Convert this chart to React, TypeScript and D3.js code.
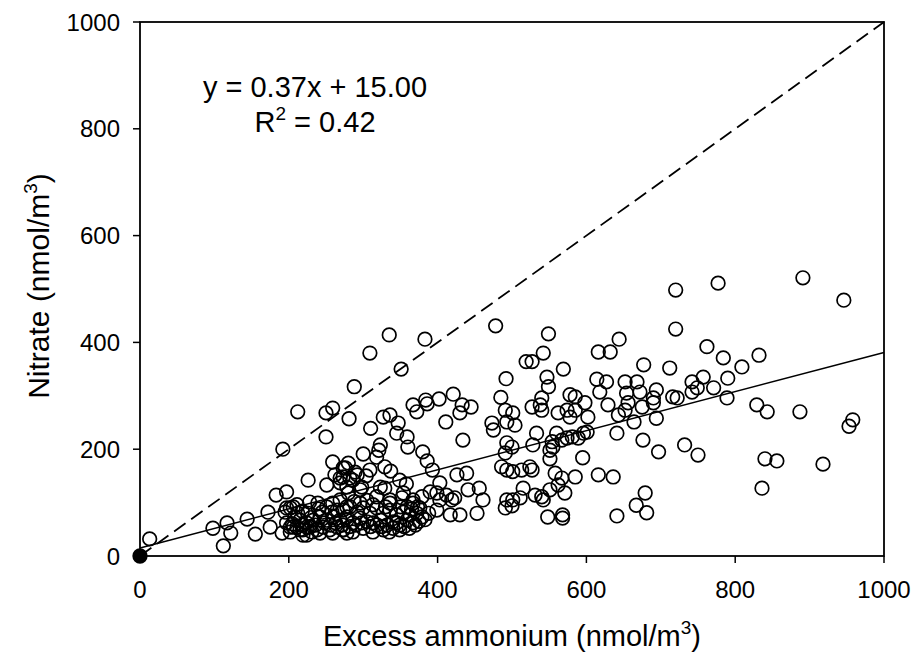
import React from "react";
import * as d3 from "d3";

// Excess ammonium (x) vs nitrate (y), nmol/m3
const observations: [number, number][] = [
  // low-left
  [13,32],[98,52],[117,62],[122,43],[112,19],[144,69],[155,41],[172,82],[175,54],[183,114],
  [197,120],[191,43],[197,90],[206,92],[212,80],[228,101],[239,99],[245,82],[197,62],[206,54],
  [215,49],[224,54],[219,39],[231,45],[202,45],[195,82],[192,200],[226,142],[251,133],[259,176],
  [250,223],[212,270],[250,268],[259,277],[288,317],[281,257],[309,380],[335,414],[351,350],[383,406],
  [478,431],
  // dense cluster 1
  [202,90],[211,96],[208,73],[215,67],[224,62],[233,67],[242,73],[251,67],[260,73],[269,67],
  [278,73],[202,54],[211,54],[219,49],[228,54],[238,49],[246,54],[255,49],[265,54],[273,49],
  [224,39],[242,43],[259,43],[278,43],[251,92],[259,99],[269,105],[278,92],[265,86],[278,129],
  [269,146],[262,152],[273,165],[280,174],
  // dense cluster 2
  [273,86],[282,92],[292,82],[300,90],[309,80],[318,90],[327,80],[336,86],[345,77],[354,82],
  [363,77],[372,80],[379,73],[278,67],[286,62],[296,71],[305,64],[313,62],[323,67],[332,58],
  [340,64],[349,58],[359,67],[367,62],[273,49],[286,45],[300,52],[313,45],[327,49],[340,52],
  [349,49],[296,99],[313,96],[336,99],[359,92],[376,90],[367,99],[318,111],[336,105],[280,118],
  [296,124],[269,137],[282,146],[292,152],[276,165],[298,129],[323,129],[329,127],[349,142],
  [205,60],[218,58],[230,72],[236,58],[248,62],[256,58],[263,62],[272,58],[282,55],[290,58],
  [298,62],[310,55],[318,58],[325,55],[335,45],[345,62],[355,55],[362,52],[370,58],[375,65],
  [383,68],[388,80],[365,88],[350,92],[330,92],[305,104],[288,102],[258,82],[240,88],[226,80],
  [218,84],
  // middle
  [310,239],[327,260],[336,264],[347,249],[345,230],[359,223],[360,204],[323,208],[321,198],[318,185],
  [300,191],[329,167],[337,159],[309,161],[289,157],[273,148],[286,142],[380,195],[386,178],[393,161],
  [426,152],[439,155],[411,251],[434,217],[433,283],[473,249],[491,193],[486,167],[493,161],[501,158],
  [403,137],[354,118],[390,120],[399,118],[412,114],[423,109],[419,105],[441,124],[456,127],[461,105],
  [453,80],[430,77],[417,77],[399,86],[403,105],[379,111],[373,92],[367,105],[352,109],[304,150],
  [358,135],
  [367,283],[372,270],[384,292],[386,285],[402,294],[421,303],[445,279],[430,268],
  [492,332],[485,297],[475,236],
  // right-middle
  [491,273],[501,268],[493,251],[504,245],[527,279],[540,273],[538,283],[562,268],[574,273],[578,260],
  [585,273],[598,287],[602,260],[629,283],[643,264],[652,273],[656,287],[675,279],[690,287],[694,258],
  [664,251],[641,230],[533,230],[554,214],[560,230],[567,217],[574,221],[581,223],[589,221],[596,230],
  [601,232],[551,198],[555,204],[551,182],[528,208],[493,212],[500,204],[595,184],[676,217],[697,195],
  [732,208],[750,189],[513,161],[524,167],[527,161],[558,155],[567,146],[585,148],[616,152],[636,148],
  [562,133],[571,118],[515,127],[531,114],[540,111],[542,105],[551,124],[493,105],[501,105],[511,109],
  [491,90],[500,94],[548,73],[568,77],[568,71],[641,75],[667,95],[679,118],[681,81],
  // upper right-middle
  [549,416],[720,425],[644,406],[616,382],[632,382],[542,380],[519,364],[527,364],[569,350],[677,358],
  [712,352],[547,335],[549,317],[614,331],[627,326],[618,307],[652,326],[668,326],[654,305],[672,307],
  [694,311],[690,296],[716,298],[722,296],[742,326],[749,315],[540,296],[578,302],[585,298],
  // far right
  [777,511],[891,521],[946,479],[720,498],[762,392],[784,371],[832,376],[809,354],[790,333],[757,335],
  [742,307],[771,315],[789,296],[829,283],[843,270],[887,270],[958,255],[953,243],[840,182],[856,178],
  [918,172],[836,127],
];

const originPoint: [number, number] = [0, 0];
const regression = { slope: 0.366, intercept: 15 };
const ticks = [0, 200, 400, 600, 800, 1000];
const equationText = "y = 0.37x + 15.00";
const r2Label = "0.42";

const W = 914, H = 658;
const FONT = "'Liberation Sans', Arial, sans-serif";

export default function App() {
  const x = d3.scaleLinear().domain([0, 1000]).range([140, 884]);
  const y = d3.scaleLinear().domain([0, 1000]).range([556, 22]);
  const line = d3.line<[number, number]>().x(d => x(d[0])).y(d => y(d[1]));
  const regPts: [number, number][] = [0, 1000].map(v => [v, regression.slope * v + regression.intercept]);
  const onePts: [number, number][] = [[0, 0], [1000, 1000]];

  return (
    <svg width={W} height={H} style={{ position: "absolute", left: 0, top: 0, background: "#fff" }}
      fontFamily={FONT}>
      <rect x={0} y={0} width={W} height={H} fill="#fff" />
      <defs>
        <clipPath id="plot">
          <rect x={x(0)} y={y(1000)} width={x(1000) - x(0)} height={y(0) - y(1000)} />
        </clipPath>
      </defs>
      {/* 1:1 dashed */}
      <path d={line(onePts) || ""} stroke="#000" strokeWidth={1.8} strokeDasharray="14,7" fill="none" />
      {/* regression */}
      <path d={line(regPts) || ""} stroke="#000" strokeWidth={1.5} fill="none" />
      {/* points */}
      <g clipPath="url(#plot)">
        {observations.map((d, i) => (
          <circle key={i} cx={x(d[0])} cy={y(d[1])} r={6.8} fill="none" stroke="#000" strokeWidth={1.7} />
        ))}
      </g>
      <circle cx={x(originPoint[0])} cy={y(originPoint[1])} r={6.8} fill="#000" stroke="#000" strokeWidth={1.7} />
      {/* frame */}
      <rect x={x(0)} y={y(1000)} width={x(1000) - x(0)} height={y(0) - y(1000)} fill="none" stroke="#000" strokeWidth={1.8} />
      {/* ticks */}
      {ticks.map(t => (
        <g key={"x" + t}>
          <line x1={x(t)} x2={x(t)} y1={y(0)} y2={y(0) + 7} stroke="#000" strokeWidth={1.5} />
          <text x={x(t)} y={598} textAnchor="middle" fontSize={24}>{t}</text>
        </g>
      ))}
      {ticks.map(t => (
        <g key={"y" + t}>
          <line x1={x(0) - 7} x2={x(0)} y1={y(t)} y2={y(t)} stroke="#000" strokeWidth={1.5} />
          <text x={120} y={y(t) + 8.5} textAnchor="end" fontSize={24}>{t}</text>
        </g>
      ))}
      {/* axis titles */}
      <text x={512} y={646} textAnchor="middle" fontSize={29}>
        Excess ammonium (nmol/m<tspan dy={-12} fontSize={19}>3</tspan><tspan dy={12}>)</tspan>
      </text>
      <text transform={`translate(49,286) rotate(-90)`} textAnchor="middle" fontSize={30}>
        Nitrate (nmol/m<tspan dy={-12} fontSize={19}>3</tspan><tspan dy={12}>)</tspan>
      </text>
      {/* equation */}
      <text x={315} y={97} textAnchor="middle" fontSize={29}>{equationText}</text>
      <text x={315} y={132} textAnchor="middle" fontSize={29}>
        R<tspan dy={-12} fontSize={19}>2</tspan><tspan dy={12}>{" = " + r2Label}</tspan>
      </text>
    </svg>
  );
}
